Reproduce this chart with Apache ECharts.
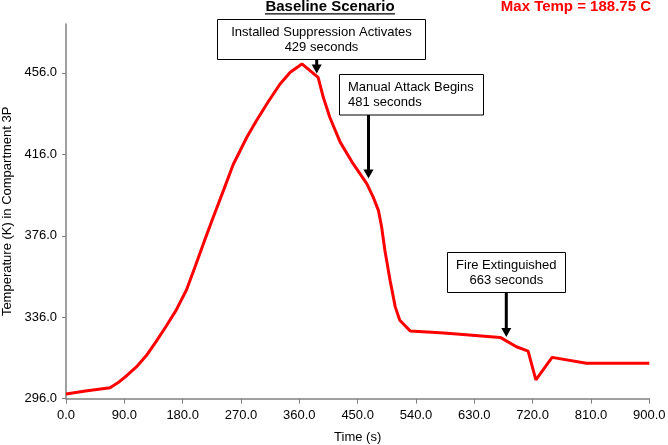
<!DOCTYPE html>
<html><head><meta charset="utf-8">
<script src="https://cdn.jsdelivr.net/npm/echarts@6/dist/echarts.min.js"></script>
<style>html,body{margin:0;padding:0;background:#fff}#c{width:668px;height:445px}</style>
</head><body><div id="c"></div>
<script>
var times = [0,30,68,80,94,109,124,140,155,170,186,200,213,227,243,258,279,294,312,330,346,364,389,397,407,423,443,464,474,482,487,492,500,508,515,531,577,593,670,695,713,725,750,803,900];
var temps = [298.3,299.8,301.4,303.8,307.4,311.7,317.2,324.5,331.8,339.5,349.5,361.5,373.0,385.0,398.3,411.0,424.4,432.6,441.8,450.4,456.3,460.4,453.8,444.0,434.2,422.0,411.4,401.6,395.0,388.5,380.3,368.9,354.2,341.1,334.5,329.3,328.4,328.0,326.1,321.5,319.4,305.2,316.3,313.4,313.4];
var xTicks = [0,90,180,270,360,450,540,630,720,810,900];
var yTicks = [296,336,376,416,456];
var titleText = 'Baseline Scenario';
var maxTempText = 'Max Temp = 188.75 C';
var notes = [
  {lines:['Installed Suppression Activates','429 seconds'], align:'center'},
  {lines:['Manual Attack Begins','481 seconds'], align:'left'},
  {lines:['Fire Extinguished','663 seconds'], align:'center'}
];

var F = 'Liberation Sans, Arial, sans-serif';
var chart = echarts.init(document.getElementById('c'), null, {renderer:'canvas'});
var data = times.map(function(t,i){return [t,temps[i]];});

function box(x,y,w,h,note,tx){
  var els = [{type:'rect', shape:{x:x,y:y,width:w,height:h}, style:{fill:'#fff',stroke:'#000',lineWidth:1}}];
  note.lines.forEach(function(l,i){
    els.push({type:'text', x:tx, y:y+12.5+i*15, style:{text:l, font:'13px '+F, fill:'#000', textAlign:note.align, textVerticalAlign:'middle'}});
  });
  return els;
}
function arrow(x,y0,y1){
  return [
    {type:'line', shape:{x1:x,y1:y0,x2:x,y2:y1-8}, style:{stroke:'#000',lineWidth:3}},
    {type:'polygon', shape:{points:[[x-5,y1-9],[x+5,y1-9],[x,y1]]}, style:{fill:'#000'}}
  ];
}
var g = [];
g = g.concat(box(217.5,19.5,208,40,notes[0],321.5), arrow(316.7,59.5,73.5));
g = g.concat(box(339.5,74.5,144,40.5,notes[1],348), arrow(368.5,115,178.5));
g = g.concat(box(447.5,252.5,118,40,notes[2],506.3), arrow(506.3,292.5,337));
g.push({type:'text', x:330, y:6.5, style:{text:titleText, font:'bold 15px '+F, fill:'#000', textAlign:'center', textVerticalAlign:'middle'}});
g.push({type:'line', shape:{x1:265,y1:13.8,x2:395,y2:13.8}, style:{stroke:'#000',lineWidth:1.3}});
g.push({type:'text', x:651, y:6.5, style:{text:maxTempText, font:'bold 15px '+F, fill:'#ff0000', textAlign:'right', textVerticalAlign:'middle'}});

chart.setOption({
  animation:false,
  backgroundColor:'#fff',
  grid:{left:66, right:18.7, top:24, bottom:46.3, containLabel:false, outerBoundsMode:'none'},
  xAxis:{type:'value', min:0, max:900, interval:90,
    name:'Time (s)', nameLocation:'middle', nameGap:32,
    nameTextStyle:{fontFamily:F, fontSize:13, color:'#000'},
    axisLine:{lineStyle:{color:'#808080', width:1.5}},
    axisTick:{show:true, length:5, inside:false, lineStyle:{color:'#808080',width:1}},
    axisLabel:{fontFamily:F, fontSize:13, color:'#000', margin:10, formatter:function(v){return v.toFixed(1);}},
    splitLine:{show:false}},
  yAxis:{type:'value', min:296, max:480,
    name:'Temperature (K) in Compartment 3P', nameLocation:'middle', nameGap:51,
    nameTextStyle:{fontFamily:F, fontSize:13, color:'#000'},
    axisLine:{show:true, lineStyle:{color:'#808080', width:1.5}},
    axisTick:{show:true, length:4, customValues:yTicks, lineStyle:{color:'#808080',width:1}},
    axisLabel:{fontFamily:F, fontSize:13, color:'#000', margin:9, customValues:yTicks, formatter:function(v){return v.toFixed(1);}},
    splitLine:{show:false}},
  series:[{type:'line', data:data, showSymbol:false, symbol:'none', lineStyle:{color:'#ff0000', width:3}, z:3}],
  graphic:g
});
</script></body></html>
